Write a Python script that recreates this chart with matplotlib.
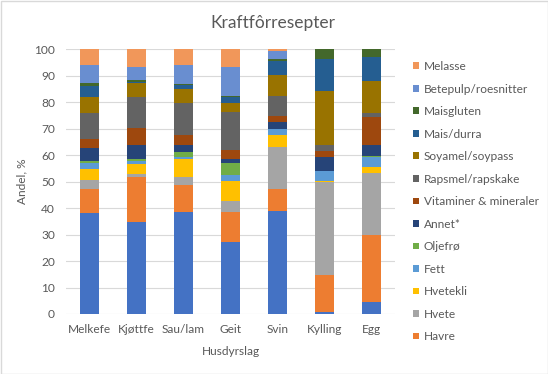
import matplotlib
matplotlib.use("Agg")
import matplotlib.pyplot as plt
import numpy as np
from matplotlib.patches import Rectangle, Patch

plt.rcParams['font.family'] = ['Lato', 'DejaVu Sans']

categories = ["Melkefe", "Kjøttfe", "Sau/lam", "Geit", "Svin", "Kylling", "Egg"]

series_names = ["Bygg", "Havre", "Hvete", "Hvetekli", "Fett", "Oljefrø", "Annet*",
                "Vitaminer & mineraler", "Rapsmel/rapskake", "Soyamel/soypass",
                "Mais/durra", "Maisgluten", "Betepulp/roesnitter", "Melasse"]

bygg        = [38.0, 34.9, 38.5, 27.3, 38.9, 0.8, 4.5]
havre       = [9.0, 16.9, 10.0, 11.2, 8.1, 13.9, 25.3]
hvete       = [3.6, 1.1, 3.3, 4.1, 16.1, 35.0, 23.5]
hvetekli    = [4.2, 3.8, 6.8, 7.7, 4.5, 0.6, 2.0]
fett        = [2.1, 1.1, 0.7, 2.2, 2.3, 3.5, 4.0]
oljefro     = [0.9, 0.8, 1.9, 4.6, 0.0, 0.2, 0.5]
annet       = [5.0, 5.3, 2.7, 1.5, 2.6, 5.1, 4.1]
vitaminer   = [3.3, 6.4, 3.5, 3.4, 2.4, 2.5, 10.3]
rapsmel     = [9.8, 11.6, 12.2, 14.3, 7.5, 2.3, 1.7]
soyamel     = [6.0, 5.4, 5.4, 3.4, 7.9, 20.1, 12.1]
mais_durra  = [4.3, 0.3, 1.3, 2.2, 5.3, 12.3, 9.1]
maisgluten  = [1.1, 0.6, 0.6, 0.5, 0.7, 3.7, 2.9]
betepulp    = [6.7, 5.1, 7.2, 10.9, 2.8, 0.0, 0.0]
melasse     = [5.9, 6.7, 5.9, 6.7, 0.9, 0.0, 0.0]

series_values = [bygg, havre, hvete, hvetekli, fett, oljefro, annet, vitaminer,
                 rapsmel, soyamel, mais_durra, maisgluten, betepulp, melasse]

colors = ["#4472C4", "#ED7D31", "#A5A5A5", "#FFC000", "#5B9BD5", "#70AD47",
          "#264478", "#9E480E", "#636363", "#997300", "#255E91", "#43682B",
          "#698ED0", "#F1975A"]

y_ticks = list(range(0, 101, 10))

fig = plt.figure(figsize=(5.48, 3.74), dpi=100)
ax = fig.add_axes([66/548, 1 - 314/374, (395-66)/548, (314-49)/374])

x = np.arange(len(categories))
bottom = np.zeros(len(categories))
for name, vals, c in zip(series_names, series_values, colors):
    v = np.array(vals)
    ax.bar(x, v, bottom=bottom, width=0.40, color=c, label=name, zorder=3)
    bottom += v

fs = 8.6
ax.set_xlim(-0.5, len(categories) - 0.5)
ax.set_ylim(0, 100)
ax.set_yticks(y_ticks)
ax.set_xticks(x)
ax.set_xticklabels(categories)
txt = "#595959"
ax.tick_params(axis='both', length=0, labelsize=fs, colors=txt)
ax.tick_params(axis='y', pad=8)
ax.tick_params(axis='x', pad=7)
for s in ax.spines.values():
    s.set_visible(False)
ax.grid(axis='y', color="#D9D9D9", linewidth=0.8, zorder=0)
ax.set_axisbelow(True)

ax.set_xlabel("Husdyrslag", fontsize=fs, color=txt, labelpad=8)
ax.set_ylabel("Andel, %", fontsize=fs, color=txt, labelpad=5)

fig.text(273/548, 1 - 23/374, "Kraftfôrresepter", fontsize=12.5, color=txt,
         ha='center', va='center')

# legend: show entries from Melasse down to Havre (as in reference)
handles = [Patch(facecolor=c, edgecolor='none') for c in colors]
order = list(range(len(series_names) - 1, 0, -1))
leg = fig.legend([handles[i] for i in order], [series_names[i] for i in order],
                 loc='upper left', bbox_to_anchor=(413/548, 1 - 61/374),
                 frameon=False, fontsize=fs, handlelength=0.5, handleheight=0.5,
                 handletextpad=0.4, labelspacing=0.965, borderaxespad=0, borderpad=0)
for t in leg.get_texts():
    t.set_color(txt)

fig.add_artist(Rectangle((0.5/548, 0.5/374), 1 - 1/548, 1 - 1/374,
                         transform=fig.transFigure, fill=False,
                         edgecolor="#D9D9D9", linewidth=1))

fig.savefig("out.png", dpi=100)
